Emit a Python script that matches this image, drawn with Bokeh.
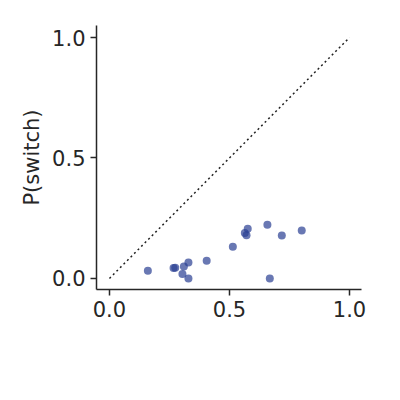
from bokeh.plotting import figure
from bokeh.models import Label, Range1d
from bokeh.embed import file_html
from bokeh.resources import INLINE

p_mouse = [0.16, 0.267, 0.274, 0.31, 0.304, 0.329, 0.329, 0.405, 0.514, 0.564,
           0.571, 0.576, 0.658, 0.668, 0.718, 0.801]
p_switch = [0.032, 0.043, 0.044, 0.050, 0.018, 0.066, 0.0, 0.073, 0.131, 0.189,
            0.179, 0.206, 0.223, 0.0, 0.178, 0.199]
ticks = [0.0, 0.5, 1.0]

p = figure(frame_width=265, frame_height=264, output_backend="svg", toolbar_location=None,
           min_border_left=96, min_border_right=20, min_border_top=25, min_border_bottom=90,
           x_range=Range1d(-0.054, 1.05), y_range=Range1d(-0.046, 1.05))
p.outline_line_color = None
p.grid.visible = False

p.line([0, 1], [0, 1], color="#222222", line_dash="2 3", line_width=1.5)
p.scatter(p_mouse, p_switch, size=8, color="#2a3f93", alpha=0.7, line_color=None)

for ax in (p.xaxis, p.yaxis):
    ax.ticker = ticks
    ax.minor_tick_line_color = None
    ax.major_tick_out = 6
    ax.major_tick_in = 0
    ax.axis_line_color = "#262626"
    ax.axis_line_width = 1.5
    ax.major_tick_line_color = "#262626"
    ax.major_tick_line_width = 1.5
    ax.major_label_text_font = "DejaVu Sans"
    ax.major_label_text_font_size = "21px"
    ax.major_label_text_color = "#262626"
p.xaxis.major_label_overrides = {0.0: "0.0", 0.5: "0.5", 1.0: "1.0"}
p.yaxis.major_label_overrides = {0.0: "0.0", 0.5: "0.5", 1.0: "1.0"}

p.yaxis.axis_label = "P(switch)"
p.yaxis.axis_label_text_font = "DejaVu Sans"
p.yaxis.axis_label_text_font_style = "normal"
p.yaxis.axis_label_text_font_size = "21px"
p.yaxis.axis_label_text_color = "#262626"

p.add_layout(Label(x=0.158, y=-67, y_units="screen", text="P(switch)",
                   text_font="DejaVu Sans", text_font_size="21px", text_color="#262626"))
p.add_layout(Label(x=0.608, y=-75, y_units="screen", text="mouse",
                   text_font="DejaVu Sans", text_font_style="italic",
                   text_font_size="16px", text_color="#262626"))

open("out.html", "w").write(file_html(p, INLINE))
